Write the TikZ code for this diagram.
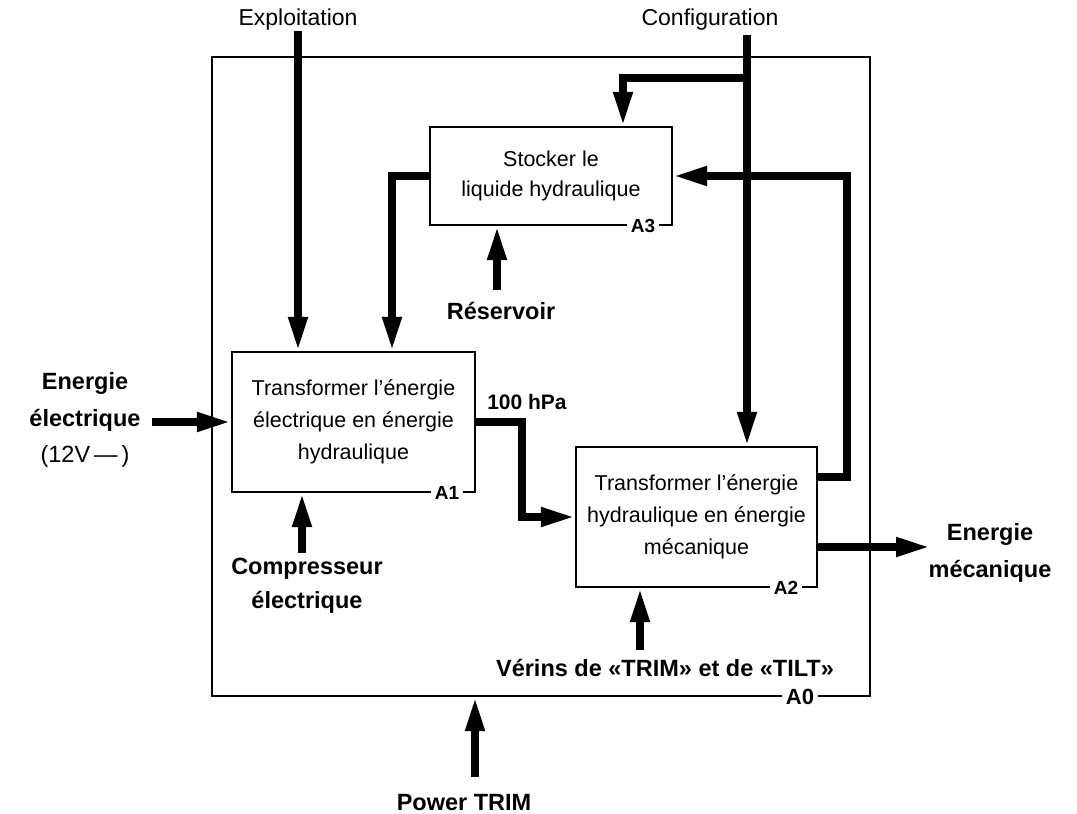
\documentclass[tikz,border=0pt]{standalone}
\usepackage{fontspec}
\setmainfont{Liberation Sans}
\usetikzlibrary{arrows.meta}
\begin{document}
\begin{tikzpicture}[x=1pt,y=-1pt,
  fbox/.style={draw, line width=2.4pt, inner sep=0pt, align=center,
    font=\fontsize{21.5}{32}\selectfont},
  frame/.style={draw, line width=2.2pt, inner sep=0pt},
  flow/.style={line width=7.5pt, line join=miter,
    -{Triangle[length=34pt,width=18pt]}},
  lbl/.style={font=\fontsize{23.5}{35}\selectfont\bfseries, align=center, inner sep=0pt},
  toplbl/.style={font=\fontsize{23}{28}\selectfont, inner sep=0pt},
  tag/.style={fill=white, inner xsep=4pt, inner ysep=1pt,
    font=\fontsize{19}{19}\selectfont\bfseries}]
\useasboundingbox (0,0) rectangle (1077,814);

% frame A0
\node[frame, minimum width=658pt, minimum height=639pt] (A0) at (541,376.5) {};

% activity boxes
\node[fbox, minimum width=243pt, minimum height=140pt] (A1) at (353.5,422)
  {Transformer l’énergie\\électrique en énergie\\hydraulique};
\node[fbox, minimum width=241pt, minimum height=140pt] (A2) at (696.5,517)
  {Transformer l’énergie\\hydraulique en énergie\\mécanique};
\node[fbox, minimum width=242pt, minimum height=98pt, font=\fontsize{21.5}{30}\selectfont] (A3) at (551,176)
  {Stocker le\\liquide hydraulique};

% outside labels
\node[toplbl] (expl) at (298,20) {Exploitation};
\node[toplbl] (conf) at (710,20) {Configuration};
\node[lbl, font=\fontsize{23.5}{36.5}\selectfont] (ee) at (85,420)
  {\textbf{Energie}\\\textbf{électrique}\\\mdseries(12V\,—\,)};
\node[lbl, font=\fontsize{23.5}{34}\selectfont\bfseries] (comp) at (307,586) {Compresseur\\électrique};
\node[lbl] (res) at (501,311) {Réservoir};
\node[lbl, font=\fontsize{21}{25}\selectfont\bfseries] (hpa) at (527,402) {100 hPa};
\node[lbl, font=\fontsize{23.5}{37}\selectfont\bfseries] (em) at (990,553) {Energie\\mécanique};
\node[lbl] (ver) at (665,668) {Vérins de «TRIM» et de «TILT»};
\node[lbl] (pt) at (464,803) {Power TRIM};

% free ends and bends
\coordinate (cfg0) at (747,35);
\coordinate (cfgb) at (751,78);
\coordinate (cfgk) at (623,78);
\coordinate (k3) at (392,176);
\coordinate (k1) at (522,470);
\coordinate (k2) at (847,300);
\coordinate (emt) at (930,547);
\coordinate (eet) at (152,422);
\coordinate (rb) at (497,290);
\coordinate (cb) at (302,553);
\coordinate (vb) at (640,650);
\coordinate (pb) at (475,777);

% connectors
\draw[flow] (expl.south) -- (expl.south |- A1.north);
\draw[flow] (cfg0) -- (cfg0 |- A2.north);
\draw[flow] (cfgb) -- (cfgk) -- (cfgk |- A3.north);
\draw[flow] (A3.west) -- (k3) -- (k3 |- A1.north);
\draw[flow] (eet) -- (A1.west);
\draw[flow] (cb) -- (cb |- A1.south);
\draw[flow] (rb) -- (rb |- A3.south);
\draw[flow] (A1.east) -| (k1) |- (A2.west);
\draw[flow] ([yshift=40pt]A2.east) -| (k2) |- (A3.east);
\draw[flow] ([yshift=-30pt]A2.east) -- (emt);
\draw[flow] (vb) -- (vb |- A2.south);
\draw[flow] (pb) -- (pb |- A0.south);

% node numbers
\node[tag] (t1) at (447,493) {A1};
\node[tag] (t2) at (786,588) {A2};
\node[tag] (t3) at (643,226) {A3};
\node[tag, font=\fontsize{22}{22}\selectfont\bfseries] (t0) at (800,697) {A0};
\end{tikzpicture}
\end{document}
